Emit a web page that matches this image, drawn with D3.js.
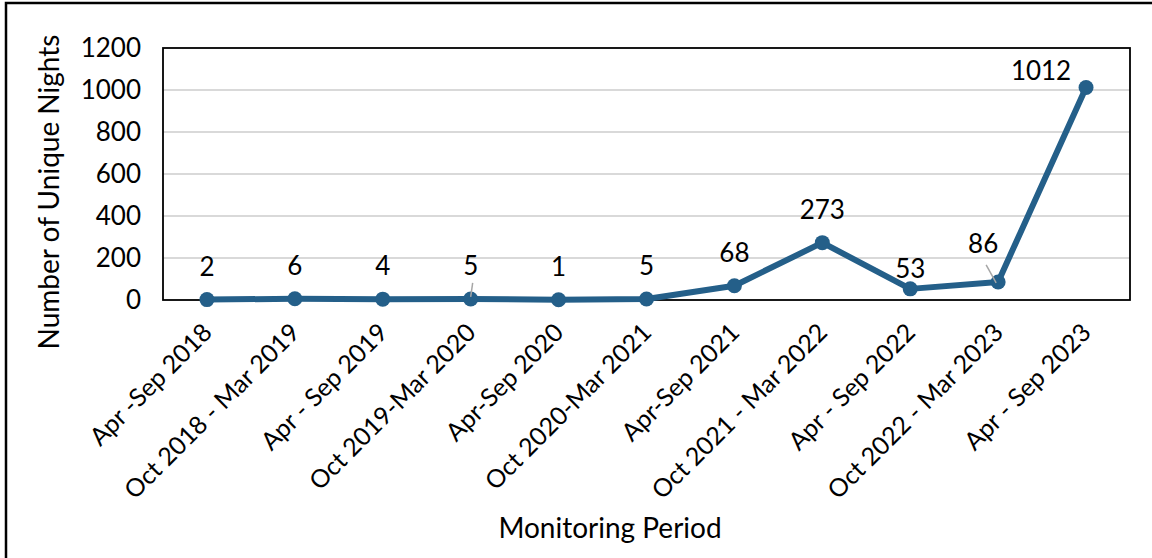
<!DOCTYPE html>
<html>
<head>
<meta charset="utf-8">
<script src="https://cdn.jsdelivr.net/npm/d3@7"></script>
<style>
  html, body { margin: 0; padding: 0; background: #fff; }
  svg { display: block; font-family: Lato, "Open Sans", sans-serif; }
</style>
</head>
<body>
<script>
const periods = [
  "Apr -Sep 2018", "Oct 2018 - Mar 2019", "Apr - Sep 2019", "Oct 2019-Mar 2020",
  "Apr-Sep 2020", "Oct 2020-Mar 2021", "Apr-Sep 2021", "Oct 2021 - Mar 2022",
  "Apr - Sep 2022", "Oct 2022 - Mar 2023", "Apr - Sep 2023"
];
const nights = [2, 6, 4, 5, 1, 5, 68, 273, 53, 86, 1012];
const yTicks = [0, 200, 400, 600, 800, 1000, 1200];

const width = 1152;
const height = 558;
const margin = { top: 48, right: 22, bottom: 258, left: 163 };
const lineColor = "#245f89";

const svg = d3.select("body").append("svg")
    .attr("width", width)
    .attr("height", height);

// outer chart frame (cut off on right / bottom)
svg.append("path")
  .attr("d", `M6,${height} V3 H${width}`)
  .attr("fill", "none")
  .attr("stroke", "#000")
  .attr("stroke-width", 2.5);

const x = d3.scalePoint()
  .domain(periods)
  .range([margin.left, width - margin.right])
  .padding(0.5);

const y = d3.scaleLinear()
  .domain([0, 1200])
  .range([height - margin.bottom, margin.top]);

// gridlines
svg.append("g")
  .selectAll("line")
  .data(yTicks.filter(d => d > 0 && d < 1200))
  .join("line")
    .attr("x1", margin.left)
    .attr("x2", width - margin.right)
    .attr("y1", d => y(d))
    .attr("y2", d => y(d))
    .attr("stroke", "#d9d9d9")
    .attr("stroke-width", 2);

// plot border
svg.append("rect")
  .attr("x", margin.left)
  .attr("y", margin.top)
  .attr("width", width - margin.right - margin.left)
  .attr("height", height - margin.bottom - margin.top)
  .attr("fill", "none")
  .attr("stroke", "#000")
  .attr("stroke-width", 1.8);

// y axis
const yAxis = d3.axisLeft(y).tickValues(yTicks).tickFormat(d3.format("d")).tickSize(0).tickPadding(22);
svg.append("g")
  .attr("transform", `translate(${margin.left},0)`)
  .call(yAxis)
  .call(g => g.select(".domain").remove())
  .selectAll("text")
    .attr("font-size", 26)
    .attr("font-family", "Lato, sans-serif")
    .attr("fill", "#000");

// x axis labels
const xAxis = d3.axisBottom(x).tickSize(0);
svg.append("g")
  .attr("transform", `translate(0,${height - margin.bottom})`)
  .call(xAxis)
  .call(g => g.select(".domain").remove())
  .selectAll("text")
    .attr("font-size", 25)
    .attr("font-family", "Lato, sans-serif")
    .attr("fill", "#000")
    .attr("text-anchor", "end")
    .attr("dy", 0)
    .attr("y", 0)
    .attr("transform", "translate(6,34) rotate(-45)");

// line
const line = d3.line()
  .x((d, i) => x(periods[i]))
  .y(d => y(d));

svg.append("path")
  .datum(nights)
  .attr("d", line)
  .attr("fill", "none")
  .attr("stroke", lineColor)
  .attr("stroke-width", 6)
  .attr("stroke-linejoin", "round");

svg.append("g")
  .selectAll("circle")
  .data(nights)
  .join("circle")
    .attr("cx", (d, i) => x(periods[i]))
    .attr("cy", d => y(d))
    .attr("r", 7.5)
    .attr("fill", lineColor);

// data labels (some nudged like the original)
const nudge = { 8: [0, 13], 9: [-15, -5], 10: [-45, 17] };
const leaders = { 3: true, 9: true };

svg.append("g")
  .selectAll("line")
  .data(nights.map((d, i) => i).filter(i => leaders[i]))
  .join("line")
    .attr("x1", i => x(periods[i]) + (i === 3 ? 2 : -12))
    .attr("y1", i => y(nights[i]) - (i === 3 ? 16 : 17))
    .attr("x2", i => x(periods[i]) + (i === 3 ? 0 : -2))
    .attr("y2", i => y(nights[i]) - (i === 3 ? 2 : -1))
    .attr("stroke", "#a6a6a6")
    .attr("stroke-width", 1.5);

svg.append("g")
  .selectAll("text")
  .data(nights)
  .join("text")
    .attr("x", (d, i) => x(periods[i]) + (nudge[i] ? nudge[i][0] : 0))
    .attr("y", (d, i) => y(d) - 24 + (nudge[i] ? nudge[i][1] : 0))
    .attr("text-anchor", "middle")
    .attr("font-size", 26)
    .attr("fill", "#000")
    .text(d => d);

// axis titles
svg.append("text")
  .attr("x", 610)
  .attr("y", 538)
  .attr("text-anchor", "middle")
  .attr("font-size", 28)
  .attr("fill", "#000")
  .text("Monitoring Period");

svg.append("text")
  .attr("transform", "translate(59,192) rotate(-90)")
  .attr("text-anchor", "middle")
  .attr("font-size", 28)
  .attr("fill", "#000")
  .text("Number of Unique Nights");
</script>
</body>
</html>
